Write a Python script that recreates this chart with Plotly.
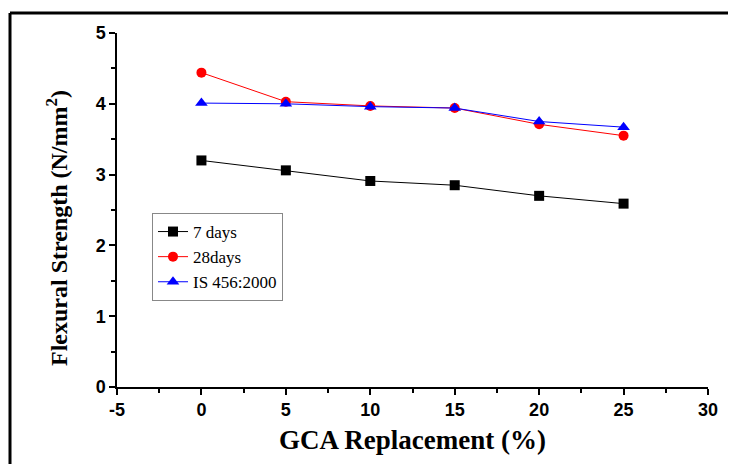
import plotly.graph_objects as go

replacement = [0, 5, 10, 15, 20, 25]
days7 = [3.20, 3.06, 2.91, 2.85, 2.70, 2.59]
days28 = [4.44, 4.03, 3.97, 3.94, 3.71, 3.55]
is456 = [4.01, 4.00, 3.96, 3.94, 3.75, 3.67]
x_ticks = [-5, 0, 5, 10, 15, 20, 25, 30]
x_ticklabels = ["-5", "0", "5", "10", "15", "20", "25", "30"]
y_ticks = [0, 1, 2, 3, 4, 5]

fig = go.Figure()
fig.add_trace(go.Scatter(x=replacement, y=days7, name="7 days", mode="lines+markers",
                         line=dict(color="#000000", width=1),
                         marker=dict(symbol="square", size=10, color="#000000")))
fig.add_trace(go.Scatter(x=replacement, y=days28, name="28days", mode="lines+markers",
                         line=dict(color="#ff0000", width=1),
                         marker=dict(symbol="circle", size=10, color="#ff0000")))
fig.add_trace(go.Scatter(x=replacement, y=is456, name="IS 456:2000", mode="lines+markers",
                         line=dict(color="#0000ff", width=1),
                         marker=dict(symbol="triangle-up", size=11, color="#0000ff")))

# page has an 8px body margin; compensate so the plot area lands at page px 117..708, 33..387
OFF = 8
W, H = 736 - OFF, 464 - OFF
PL, PR, PT, PB = 117, 708, 33, 387
L = PL - OFF
T = PT - OFF
R = W - (PR - OFF)
B = H - (PB - OFF)

def px(xpage):
    return (xpage - PL) / (PR - PL)

def py(ypage):
    return (PB - ypage) / (PB - PT)

fig.update_layout(
    width=W, height=H,
    margin=dict(l=L, r=R, t=T, b=B, autoexpand=False),
    paper_bgcolor="white", plot_bgcolor="white",
    showlegend=True,
    legend=dict(x=px(152), y=py(213), xanchor="left", yanchor="top",
                bgcolor="white", bordercolor="#888888", borderwidth=1,
                font=dict(family="Liberation Serif", size=17, color="black"),
                itemsizing="trace"),
    xaxis=dict(range=[-5, 30], tickvals=x_ticks, ticktext=x_ticklabels,
               showgrid=False, zeroline=False, showline=True, linecolor="black", linewidth=1.5,
               ticks="outside", ticklen=6, tickwidth=1.5, tickcolor="black",
               minor=dict(tickvals=[-2.5, 2.5, 7.5, 12.5, 17.5, 22.5, 27.5], ticks="outside",
                          ticklen=4, tickwidth=1.5, tickcolor="black"),
               tickfont=dict(family="Liberation Sans", size=18, color="black", weight="bold"),
               title=dict(text="GCA Replacement (%)", standoff=11,
                          font=dict(family="Liberation Serif", size=27, color="black", weight="bold"))),
    yaxis=dict(range=[0, 5], tickvals=y_ticks,
               showgrid=False, zeroline=False, showline=True, linecolor="black", linewidth=1.5,
               ticks="outside", ticklen=6, tickwidth=1.5, tickcolor="black",
               minor=dict(tickvals=[0.5, 1.5, 2.5, 3.5, 4.5], ticks="outside",
                          ticklen=4, tickwidth=1.5, tickcolor="black"),
               tickfont=dict(family="Liberation Sans", size=18, color="black", weight="bold")),
    annotations=[
        dict(text="Flexural Strength (N/mm<sup>2</sup>)", textangle=-90,
             xref="paper", yref="paper", x=px(57), y=py(228),
             xanchor="center", yanchor="middle", showarrow=False,
             font=dict(family="Liberation Serif", size=24, color="black", weight="bold")),
    ],
    shapes=[
        dict(type="line", xref="paper", yref="paper", x0=px(10), x1=px(790), y0=py(13), y1=py(13),
             line=dict(color="black", width=3)),
        dict(type="line", xref="paper", yref="paper", x0=px(10), x1=px(10), y0=py(13), y1=py(520),
             line=dict(color="black", width=3)),
    ],
)

fig.write_html("out.html")
